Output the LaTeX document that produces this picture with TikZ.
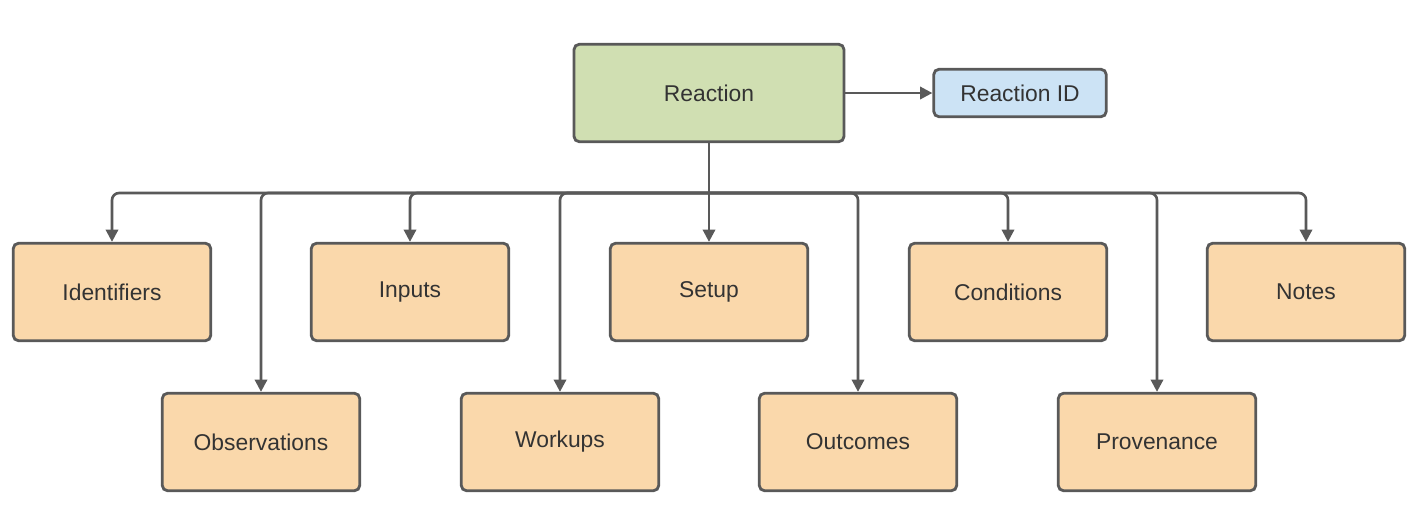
\documentclass[tikz,border=0pt]{standalone}
\usepackage{fontspec}
\setmainfont{Liberation Sans}
\usetikzlibrary{arrows.meta}
\begin{document}
\begin{tikzpicture}[x=0.02cm,y=-0.02cm,
 box/.style={draw=black!65,line width=1.6pt,rounded corners=3pt,minimum width=3.95cm,minimum height=1.95cm,fill=orange!30!white,font=\fontsize{13}{15}\selectfont,text=black!80},
 conn/.style={draw=black!65,line width=1.5pt,-{Triangle[length=7pt,width=7pt]}}]
\useasboundingbox (0,0) rectangle (1417,522);
\definecolor{og}{HTML}{FAD8AB}
\definecolor{gr}{HTML}{D0DFB2}
\definecolor{bl}{HTML}{CCE3F5}
\node[box,fill=gr,minimum width=5.4cm] (R) at (709,93) {Reaction};
\node[box,fill=bl,minimum width=3.45cm,minimum height=0.95cm] (ID) at (1020,93) {Reaction ID};
\foreach \n/\x/\t in {id/112/Identifiers,in/410/Inputs,se/709/Setup,co/1008/Conditions,no/1306/Notes}
  \node[box,fill=og] (\n) at (\x,292) {\t};
\foreach \n/\x/\t in {ob/261/Observations,wo/560/Workups,ou/858/Outcomes,pr/1157/Provenance}
  \node[box,fill=og] (\n) at (\x,442) {\t};
\coordinate (J) at (709,193);
\draw[conn] (R) -- (ID);
\draw[draw=black!65,line width=1.5pt] (R.south) -- (J);
\foreach \n in {id,in,se,co,no,ob,wo,ou,pr}
  \draw[conn,rounded corners=4pt] (J) -| (\n.north);
\end{tikzpicture}
\end{document}
